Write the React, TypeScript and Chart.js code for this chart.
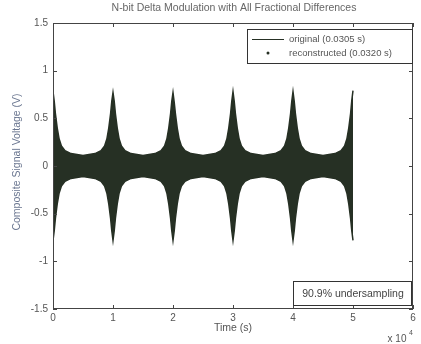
import React, { useEffect, useRef } from "react";
import { Chart, registerables } from "chart.js";

Chart.register(...registerables);

// Time axis in units of 10^4 s
const TIME_E4 = [
  0, 0.02, 0.04, 0.07, 0.1, 0.14, 0.2, 0.3, 0.4, 0.5, 0.6, 0.7, 0.8, 0.86, 0.9, 0.93, 0.96, 0.98,
  1, 1.02, 1.04, 1.07, 1.1, 1.14, 1.2, 1.3, 1.4, 1.5, 1.6, 1.7, 1.8, 1.86, 1.9, 1.93, 1.96, 1.98,
  2, 2.02, 2.04, 2.07, 2.1, 2.14, 2.2, 2.3, 2.4, 2.5, 2.6, 2.7, 2.8, 2.86, 2.9, 2.93, 2.96, 2.98,
  3, 3.02, 3.04, 3.07, 3.1, 3.14, 3.2, 3.3, 3.4, 3.5, 3.6, 3.7, 3.8, 3.86, 3.9, 3.93, 3.96, 3.98,
  4, 4.02, 4.04, 4.07, 4.1, 4.14, 4.2, 4.3, 4.4, 4.5, 4.6, 4.7, 4.8, 4.86, 4.9, 4.93, 4.96, 4.98,
  5,
];

// Upper envelope of the composite signal (V)
const UPPER_V = [
  0.78, 0.68, 0.55, 0.4, 0.29, 0.21, 0.16, 0.13, 0.12, 0.11, 0.12, 0.13, 0.16, 0.21, 0.29, 0.4, 0.55, 0.68,
  0.77, 0.68, 0.55, 0.4, 0.29, 0.21, 0.16, 0.13, 0.12, 0.11, 0.12, 0.13, 0.16, 0.21, 0.29, 0.4, 0.55, 0.68,
  0.77, 0.67, 0.55, 0.4, 0.29, 0.21, 0.16, 0.13, 0.12, 0.11, 0.12, 0.13, 0.16, 0.21, 0.29, 0.4, 0.55, 0.68,
  0.78, 0.68, 0.55, 0.4, 0.29, 0.21, 0.16, 0.13, 0.12, 0.11, 0.12, 0.13, 0.16, 0.21, 0.29, 0.4, 0.55, 0.68,
  0.78, 0.68, 0.55, 0.4, 0.29, 0.21, 0.16, 0.13, 0.12, 0.11, 0.12, 0.13, 0.16, 0.21, 0.29, 0.4, 0.55, 0.69,
  0.79,
];

// Lower envelope of the composite signal (V)
const LOWER_V = [
  -0.78, -0.68, -0.55, -0.4, -0.29, -0.21, -0.16, -0.13, -0.12, -0.11, -0.12, -0.13, -0.16, -0.21, -0.29, -0.4, -0.55, -0.68,
  -0.78, -0.68, -0.55, -0.4, -0.29, -0.21, -0.16, -0.13, -0.12, -0.11, -0.12, -0.13, -0.16, -0.21, -0.29, -0.4, -0.55, -0.68,
  -0.78, -0.68, -0.55, -0.4, -0.29, -0.21, -0.16, -0.13, -0.12, -0.11, -0.12, -0.13, -0.16, -0.21, -0.29, -0.4, -0.55, -0.68,
  -0.78, -0.68, -0.55, -0.4, -0.29, -0.21, -0.16, -0.13, -0.12, -0.11, -0.12, -0.13, -0.16, -0.21, -0.29, -0.4, -0.55, -0.68,
  -0.78, -0.68, -0.55, -0.4, -0.29, -0.21, -0.16, -0.13, -0.12, -0.11, -0.12, -0.13, -0.16, -0.21, -0.29, -0.4, -0.55, -0.68,
  -0.78,
];

const X_TICKS = [0, 1, 2, 3, 4, 5, 6];
const Y_TICKS = [-1.5, -1, -0.5, 0, 0.5, 1, 1.5];

const TITLE = "N-bit Delta Modulation with All Fractional Differences";
const X_LABEL = "Time (s)";
const Y_LABEL = "Composite Signal Voltage (V)";
const LEGEND_LABELS = ["original (0.0305 s)", "reconstructed (0.0320 s)"];
const NOTE = "90.9% undersampling";

const SIGNAL = "#263024";
const FONT = "'Liberation Sans', Arial, sans-serif";

const deco = {
  id: "deco",
  afterDatasetsDraw(chart: any) {
    const ctx = chart.ctx as CanvasRenderingContext2D;
    const { left, right, top, bottom } = chart.chartArea;
    const xs = chart.scales.x;
    const ys = chart.scales.y;
    ctx.save();
    // frame
    ctx.strokeStyle = "#444";
    ctx.lineWidth = 1;
    ctx.strokeRect(left + 0.5, top + 0.5, right - left - 1, bottom - top - 1);
    // inward ticks
    ctx.beginPath();
    X_TICKS.forEach((v) => {
      const px = Math.round(xs.getPixelForValue(v)) + 0.5;
      ctx.moveTo(px, bottom);
      ctx.lineTo(px, bottom - 4);
      ctx.moveTo(px, top);
      ctx.lineTo(px, top + 4);
    });
    Y_TICKS.forEach((v) => {
      const py = Math.round(ys.getPixelForValue(v)) + 0.5;
      ctx.moveTo(left, py);
      ctx.lineTo(left + 4, py);
      ctx.moveTo(right, py);
      ctx.lineTo(right - 4, py);
    });
    ctx.stroke();

    // legend box
    const lx = 247, ly = 29, lw = 165, lh = 34;
    ctx.fillStyle = "#ffffff";
    ctx.fillRect(lx, ly, lw, lh);
    ctx.strokeStyle = "#333";
    ctx.strokeRect(lx + 0.5, ly + 0.5, lw, lh);
    ctx.strokeStyle = SIGNAL;
    ctx.beginPath();
    ctx.moveTo(252, 39.5);
    ctx.lineTo(284, 39.5);
    ctx.stroke();
    ctx.fillStyle = SIGNAL;
    ctx.beginPath();
    ctx.arc(268, 53, 1.5, 0, Math.PI * 2);
    ctx.fill();
    ctx.fillStyle = "#555";
    ctx.font = `9.5px ${FONT}`;
    ctx.textAlign = "left";
    ctx.textBaseline = "middle";
    ctx.fillText(LEGEND_LABELS[0], 289, 39);
    ctx.fillText(LEGEND_LABELS[1], 289, 53);

    // note box
    const nx = 293, ny = 281, nw = 118, nh = 24;
    ctx.fillStyle = "#ffffff";
    ctx.fillRect(nx, ny, nw, nh);
    ctx.strokeStyle = "#333";
    ctx.strokeRect(nx + 0.5, ny + 0.5, nw, nh);
    ctx.fillStyle = "#444";
    ctx.font = `10.5px ${FONT}`;
    ctx.textAlign = "center";
    ctx.fillText(NOTE, nx + nw / 2 + 1, ny + nh / 2 + 1);

    // title
    ctx.fillStyle = "#666";
    ctx.font = `10.5px ${FONT}`;
    ctx.fillText(TITLE, 234, 8);

    // x label
    ctx.fillStyle = "#555";
    ctx.font = `10.5px ${FONT}`;
    ctx.fillText(X_LABEL, 233, 328);
    // exponent
    ctx.font = `10px ${FONT}`;
    ctx.fillText("x 10", 397, 339);
    ctx.font = `7px ${FONT}`;
    ctx.fillText("4", 411, 333);

    // y label
    ctx.save();
    ctx.translate(17, 162);
    ctx.rotate(-Math.PI / 2);
    ctx.fillStyle = "#6a7690";
    ctx.font = `10.5px ${FONT}`;
    ctx.fillText(Y_LABEL, 0, 0);
    ctx.restore();

    ctx.restore();
  },
};

export default function App() {
  const ref = useRef<HTMLCanvasElement | null>(null);
  useEffect(() => {
    if (!ref.current) return;
    const upper = TIME_E4.map((t, i) => ({ x: t, y: UPPER_V[i] }));
    const lower = TIME_E4.map((t, i) => ({ x: t, y: LOWER_V[i] }));
    const chart = new Chart(ref.current, {
      type: "line",
      data: {
        datasets: [
          {
            data: upper,
            borderColor: SIGNAL,
            backgroundColor: SIGNAL,
            borderWidth: 1.5,
            pointRadius: 0,
            fill: "+1",
            tension: 0,
          },
          {
            data: lower,
            borderColor: SIGNAL,
            backgroundColor: SIGNAL,
            borderWidth: 1.5,
            pointRadius: 0,
            fill: false,
            tension: 0,
          },
        ],
      },
      options: {
        animation: false,
        responsive: false,
        maintainAspectRatio: false,
        layout: { padding: { top: 23, right: 8, left: 0, bottom: 0 } },
        plugins: {
          legend: { display: false },
          tooltip: { enabled: false },
          title: { display: false },
        },
        scales: {
          x: {
            type: "linear",
            min: 0,
            max: 6,
            afterBuildTicks: (s: any) => {
              s.ticks = X_TICKS.map((v) => ({ value: v }));
            },
            afterFit: (s: any) => {
              s.height = 35;
            },
            grid: { display: false, drawTicks: false },
            border: { display: false },
            ticks: {
              padding: 3,
              color: "#555",
              font: { family: FONT, size: 10 },
              callback: (v: any) => String(v),
            },
          },
          y: {
            type: "linear",
            min: -1.5,
            max: 1.5,
            afterBuildTicks: (s: any) => {
              s.ticks = Y_TICKS.map((v) => ({ value: v }));
            },
            afterFit: (s: any) => {
              s.width = 53;
            },
            grid: { display: false, drawTicks: false },
            border: { display: false },
            ticks: {
              padding: 5,
              color: "#555",
              font: { family: FONT, size: 10 },
              callback: (v: any) => String(v),
            },
          },
        },
      },
      plugins: [deco],
    });
    return () => chart.destroy();
  }, []);
  return (
    <div style={{ position: "fixed", left: 0, top: 0, width: 421, height: 344, background: "#fff" }}>
      <canvas ref={ref} width={421} height={344} />
    </div>
  );
}
